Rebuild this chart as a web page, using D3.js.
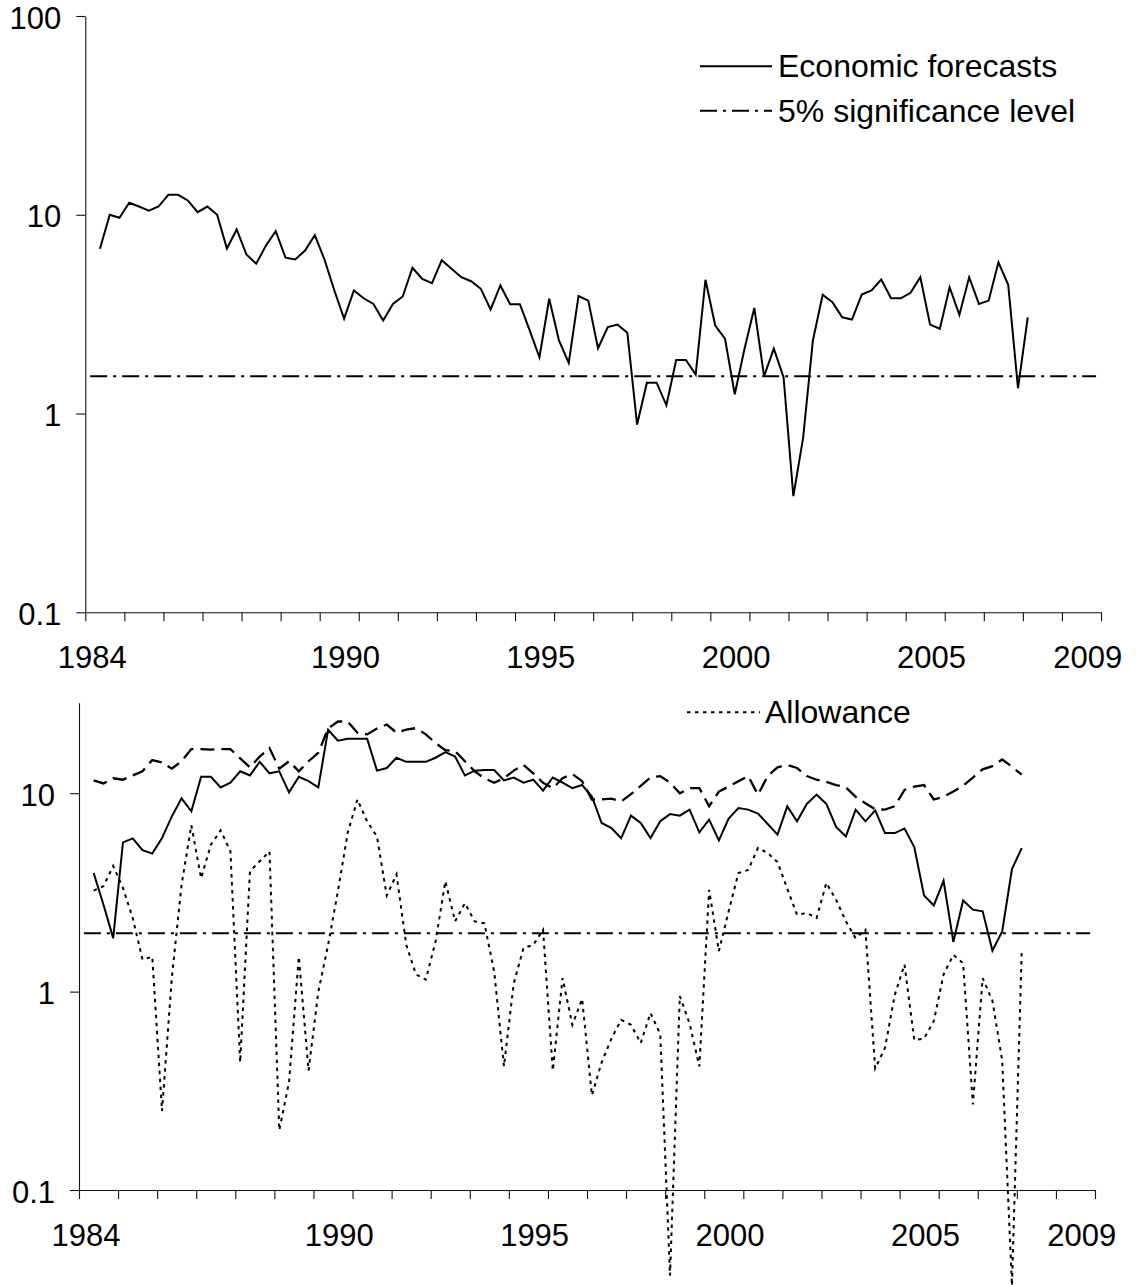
<!DOCTYPE html>
<html><head><meta charset="utf-8">
<script src="https://cdn.jsdelivr.net/npm/d3@7"></script>
<style>
body{margin:0;background:#fff}
text{font-family:"Liberation Sans",Arial,sans-serif;fill:#000}
</style>
</head><body>
<svg id="c" width="1141" height="1285"></svg>
<script>
// ---------------- data ----------------
const firstQuarter = 1984.375;   // centre of 1984Q2, quarterly observations
const econTop = [6.74,10.0,9.66,11.5,11.0,10.5,11.0,12.6,12.6,11.8,
  10.3,11.0,10.0,6.77,8.43,6.31,5.67,7.0,8.27,6.08,
  5.96,6.61,7.89,5.94,4.16,3.0,4.16,3.8,3.56,2.94,
  3.56,3.88,5.41,4.76,4.53,5.91,5.35,4.85,4.63,4.24,
  3.34,4.41,3.55,3.55,2.62,1.92,3.78,2.33,1.80,3.9,
  3.7,2.13,2.72,2.8,2.55,0.88,1.43,1.43,1.10,1.86,
  1.86,1.57,4.71,2.77,2.38,1.25,2.12,3.40,1.54,2.12,
  1.52,0.384,0.755,2.33,3.96,3.63,3.05,2.97,3.97,4.16,
  4.72,3.80,3.80,4.05,4.85,2.8,2.67,4.32,3.14,4.85,
  3.56,3.70,5.77,4.44,1.34,3.05];
const econBottom = [3.96,2.75,1.86,5.65,5.92,5.17,4.96,5.94,7.64,9.42,
  8.11,12.1,12.1,10.7,11.3,12.9,12.3,14.4,12.6,12.9,
  10.1,12.1,11.5,10.7,20.9,18.4,18.8,18.8,18.8,13.0,
  13.4,15.1,14.4,14.4,14.4,15.1,16.1,15.3,12.3,13.0,
  13.1,13.1,11.6,12.0,11.3,11.7,10.3,12.0,11.3,10.6,
  11.0,9.64,7.08,6.68,5.94,7.71,7.08,5.94,7.22,7.85,
  7.71,8.27,6.35,7.36,5.79,7.45,8.42,8.27,7.89,7.0,
  6.18,8.59,7.22,8.83,9.84,8.83,6.76,6.06,8.27,7.22,
  8.2,6.30,6.30,6.63,5.35,3.05,2.72,3.62,1.78,2.88,
  2.59,2.54,1.61,2.01,4.15,5.29];
const dashedBottom = [11.6,11.2,11.9,11.7,12.3,12.9,14.7,14.3,13.3,14.5,
  16.7,16.7,16.6,16.7,16.7,15.0,13.5,15.3,16.9,13.3,
  14.5,12.9,14.5,16.0,21.2,23.0,23.0,20.2,19.8,21.2,
  22.2,20.2,20.9,21.3,19.8,17.9,16.5,16.3,14.5,12.9,
  11.9,11.3,11.9,13.0,13.9,12.6,11.3,10.6,11.9,12.5,
  11.5,9.3,9.3,9.4,9.1,9.9,10.9,12.0,12.2,11.3,
  10.0,10.6,10.6,8.6,10.2,10.8,11.5,12.2,9.84,12.2,
  13.5,13.9,13.4,12.2,11.7,11.4,11.0,10.7,9.6,8.9,
  8.3,8.27,8.6,10.4,10.8,11.0,9.3,9.6,10.2,10.9,
  12.0,13.2,13.7,14.8,13.6,12.4];
const allowance = [3.23,3.4,4.3,3.33,2.35,1.45,1.50,0.25,1.17,3.46,
  6.9,3.73,5.5,6.5,5.09,0.44,4.04,4.54,5.09,0.20,
  0.35,1.5,0.40,1.0,1.72,3.2,6.3,9.3,7.2,6.06,
  3.05,3.9,1.72,1.22,1.15,1.79,3.6,2.26,2.79,2.26,
  2.21,1.26,0.42,1.1,1.66,1.72,2.05,0.40,1.17,0.68,
  0.92,0.30,0.44,0.58,0.72,0.68,0.55,0.78,0.61,0.037,
  0.95,0.69,0.42,3.26,1.6,2.54,3.96,4.1,5.3,5.0,
  4.5,3.3,2.44,2.49,2.35,3.53,2.9,2.26,1.86,2.05,
  0.41,0.52,0.96,1.37,0.57,0.58,0.71,1.22,1.53,1.39,
  0.27,1.17,0.9,0.45,0.033,1.6];
const sigTop = 1.54;
const sigBottom = 1.97;
const sigSpan = [1984.125, 2009.875];
const yearTicks = d3.range(1984, 2011);
const yearLabels = [1984, 1990, 1995, 2000, 2005, 2009];
const yTicksTop = [0.1, 1, 10, 100];
const yTicksBottom = [0.1, 1, 10];
const legendTop = ["Economic forecasts", "5% significance level"];
const legendBottom = ["Allowance"];

// ---------------- drawing ----------------
const svg = d3.select("#c");
const FS = 31;
const dateOf = i => firstQuarter + 0.25 * i;

function panel(cfg) {
  const x = d3.scaleLinear().domain([1984, 2010]).range([cfg.left, cfg.right]);
  const y = d3.scaleLog().domain([0.1, cfg.yMax]).range([cfg.bottom, cfg.top]);
  const g = svg.append("g");

  const xa = g.append("g").attr("transform", `translate(0,${cfg.bottom})`)
    .call(d3.axisBottom(x).tickValues(yearTicks).tickSizeInner(9).tickSizeOuter(0).tickFormat(""));
  xa.selectAll("path,line").attr("stroke", "#111").attr("stroke-width", 1.1);
  const ya = g.append("g").attr("transform", `translate(${cfg.left},0)`)
    .call(d3.axisLeft(y).tickValues(cfg.yTicks).tickSizeInner(9).tickSizeOuter(0).tickFormat(""));
  ya.selectAll("path,line").attr("stroke", "#111").attr("stroke-width", 1.1);

  g.selectAll(".yl").data(cfg.yTicks).enter().append("text")
    .attr("x", cfg.left - 24).attr("y", d => y(d) + 12.7)
    .attr("text-anchor", "end").attr("font-size", FS)
    .text(d => d3.format("~g")(d));
  g.selectAll(".xl").data(yearLabels).enter().append("text")
    .attr("x", (d, i) => x(d + (i === 0 ? 0.18 : 0.66)))
    .attr("y", cfg.bottom + 56)
    .attr("text-anchor", "middle").attr("font-size", FS)
    .text(d => d);

  const line = d3.line().x((d, i) => x(dateOf(i))).y(d => y(d));
  return {g, x, y, line};
}

// top panel
const P1 = panel({left: 85.3, right: 1101, top: 16, bottom: 612.3, yMax: 100, yTicks: yTicksTop});
P1.g.append("line")
  .attr("x1", P1.x(sigSpan[0])).attr("x2", P1.x(sigSpan[1]))
  .attr("y1", P1.y(sigTop)).attr("y2", P1.y(sigTop))
  .attr("stroke", "#000").attr("stroke-width", 2).attr("stroke-dasharray", "17,6,3,6");
P1.g.append("path").datum(econTop).attr("d", P1.line)
  .attr("fill", "none").attr("stroke", "#000").attr("stroke-width", 2);

const lg1 = P1.g.append("g");
lg1.append("line").attr("x1", 700).attr("x2", 772).attr("y1", 66.3).attr("y2", 66.3)
  .attr("stroke", "#000").attr("stroke-width", 2);
lg1.append("line").attr("x1", 700).attr("x2", 772).attr("y1", 110.7).attr("y2", 110.7)
  .attr("stroke", "#000").attr("stroke-width", 2).attr("stroke-dasharray", "17,6,3,6");
lg1.selectAll("text").data(legendTop).enter().append("text")
  .attr("x", 778).attr("y", (d, i) => 77.3 + i * 44.4).attr("font-size", 32).text(d => d);

// bottom panel
const P2 = panel({left: 79, right: 1095, top: 702.7, bottom: 1190, yMax: 28.6, yTicks: yTicksBottom});
P2.g.append("line")
  .attr("x1", P2.x(sigSpan[0])).attr("x2", P2.x(sigSpan[1]))
  .attr("y1", P2.y(sigBottom)).attr("y2", P2.y(sigBottom))
  .attr("stroke", "#000").attr("stroke-width", 2).attr("stroke-dasharray", "17,6,3,6");
P2.g.append("path").datum(dashedBottom).attr("d", P2.line)
  .attr("fill", "none").attr("stroke", "#000").attr("stroke-width", 2.3).attr("stroke-dasharray", "14,7");
P2.g.append("path").datum(allowance).attr("d", P2.line)
  .attr("fill", "none").attr("stroke", "#000").attr("stroke-width", 2).attr("stroke-dasharray", "3.5,4.5");
P2.g.append("path").datum(econBottom).attr("d", P2.line)
  .attr("fill", "none").attr("stroke", "#000").attr("stroke-width", 2);

const lg2 = P2.g.append("g");
lg2.append("line").attr("x1", 687).attr("x2", 760).attr("y1", 712.3).attr("y2", 712.3)
  .attr("stroke", "#000").attr("stroke-width", 2).attr("stroke-dasharray", "3.5,4.5");
lg2.selectAll("text").data(legendBottom).enter().append("text")
  .attr("x", 765).attr("y", 723).attr("font-size", 32).text(d => d);
</script>
</body></html>
